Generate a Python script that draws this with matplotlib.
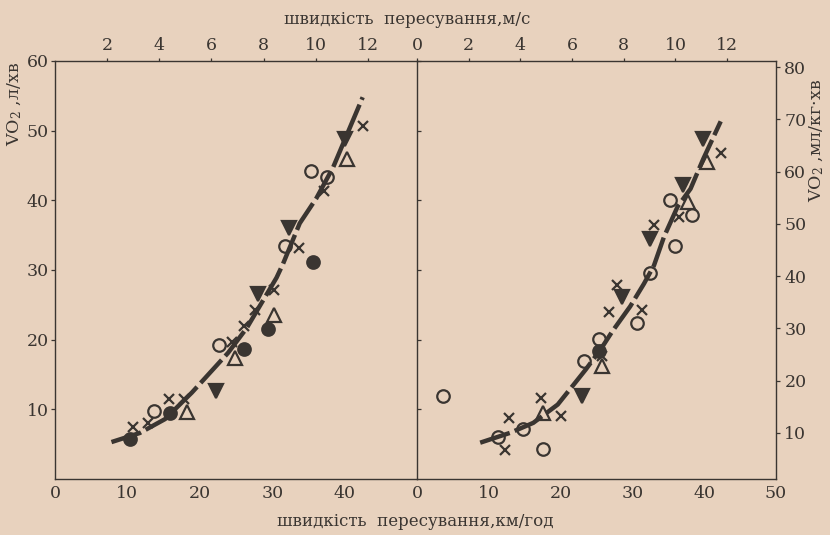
import matplotlib
matplotlib.use("Agg")
import matplotlib.pyplot as plt

# ---------------- data (speed km/h, VO2) ----------------
# Left panel: VO2, l/min
L_open_circle_x = [13.7, 22.6, 31.7, 35.4, 37.5]
L_open_circle_y = [9.8, 19.3, 33.4, 44.2, 43.3]
L_filled_circle_x = [10.3, 15.9, 26.1, 29.4, 35.6]
L_filled_circle_y = [5.8, 9.5, 18.7, 21.6, 31.1]
L_cross_x = [10.8, 12.8, 15.8, 17.8, 24.5, 26.1, 27.6, 30.2, 33.7, 37.2, 42.5]
L_cross_y = [7.4, 8.1, 11.5, 11.5, 19.6, 22.0, 24.3, 27.2, 33.2, 41.3, 50.6]
L_open_tri_x = [18.2, 24.9, 30.3, 40.4]
L_open_tri_y = [9.6, 17.4, 23.6, 45.9]
L_filled_tri_x = [22.2, 28.0, 32.3, 40.0]
L_filled_tri_y = [12.7, 26.5, 36.0, 48.8]
L_curve_x = [7.8, 11.7, 15.2, 18.9, 23.9, 26.5, 30.6, 31.5, 33.8, 36.1, 38.4, 42.5]
L_curve_y = [5.3, 6.6, 8.6, 12.4, 18.1, 21.7, 28.9, 30.9, 36.7, 40.3, 44.7, 54.8]

# Right panel: VO2, ml/kg/min
R_open_circle_x = [3.6, 11.3, 14.8, 17.6, 23.3, 25.3, 30.7, 32.4, 36.0, 35.2, 38.3]
R_open_circle_y = [17.1, 9.2, 10.8, 6.9, 23.7, 27.9, 31.0, 40.6, 45.8, 54.6, 51.6]
R_filled_circle_x = [25.3]
R_filled_circle_y = [25.6]
R_cross_x = [12.3, 12.8, 17.3, 20.0, 25.8, 26.8, 27.9, 31.3, 33.0, 36.5, 42.3]
R_cross_y = [6.7, 12.9, 16.7, 13.3, 24.6, 33.2, 38.3, 33.4, 49.8, 51.3, 63.5]
R_open_tri_x = [17.6, 25.8, 37.7, 40.4]
R_open_tri_y = [13.8, 22.7, 54.2, 61.9]
R_filled_tri_x = [23.0, 28.5, 32.4, 37.0, 39.9]
R_filled_tri_y = [17.1, 35.9, 47.1, 57.5, 66.3]
R_curve_x = [8.8, 13.0, 16.2, 19.6, 23.5, 25.6, 27.2, 29.7, 31.6, 33.0, 34.4, 36.3, 38.1, 39.9, 42.3]
R_curve_y = [8.1, 10.0, 11.9, 15.4, 22.1, 26.0, 29.4, 34.2, 38.5, 42.0, 47.5, 53.3, 56.7, 62.5, 69.6]

L_yticks = [10, 20, 30, 40, 50, 60]
R_yticks = [10, 20, 30, 40, 50, 60, 70, 80]
L_xticks = [0, 10, 20, 30, 40]
R_xticks = [0, 10, 20, 30, 40, 50]
L_top_ticks = [2, 4, 6, 8, 10, 12]
R_top_ticks = [0, 2, 4, 6, 8, 10, 12]

top_label = "швидкість  пересування,м/с"
bottom_label = "швидкість  пересування,км/год"
left_ylabel = r"VO$_2$ ,л/хв"
right_ylabel = r"VO$_2$ ,мл/кг·хв"

# ---------------- style ----------------
BG = "#e8d2be"
INK = "#3a3531"
plt.rcParams['font.family'] = ['DejaVu Serif']
plt.rcParams['mathtext.fontset'] = 'dejavuserif'
plt.rcParams['text.color'] = INK
plt.rcParams['axes.edgecolor'] = INK
plt.rcParams['xtick.color'] = INK
plt.rcParams['ytick.color'] = INK

fig = plt.figure(figsize=(8.3, 5.35), dpi=100, facecolor=BG)
H = 535.0
W = 830.0
TOP, BOT = 61, 479
axL = fig.add_axes([55 / W, 1 - BOT / H, (417 - 55) / W, (BOT - TOP) / H])
axR = fig.add_axes([417 / W, 1 - BOT / H, (776 - 417) / W, (BOT - TOP) / H])

ms = 9
mew = 1.6


def draw(ax, oc, fc, cr, ot, ft, cv):
    ax.plot(cv[0], cv[1], color=INK, lw=3.2, ls=(0, (7, 1.2)),
            solid_capstyle='butt', dash_capstyle='butt', zorder=2)
    ax.plot(oc[0], oc[1], 'o', ms=ms, mfc='none', mec=INK, mew=mew, zorder=3)
    ax.plot(fc[0], fc[1], 'o', ms=ms, mfc=INK, mec=INK, mew=mew, zorder=3)
    ax.plot(cr[0], cr[1], 'x', ms=7.5, mec=INK, mew=mew, zorder=3)
    ax.plot(ot[0], ot[1], '^', ms=ms + 1, mfc='none', mec=INK, mew=mew, zorder=3)
    ax.plot(ft[0], ft[1], 'v', ms=ms + 1, mfc=INK, mec=INK, mew=mew, zorder=3)


draw(axL, (L_open_circle_x, L_open_circle_y), (L_filled_circle_x, L_filled_circle_y),
     (L_cross_x, L_cross_y), (L_open_tri_x, L_open_tri_y),
     (L_filled_tri_x, L_filled_tri_y), (L_curve_x, L_curve_y))
draw(axR, (R_open_circle_x, R_open_circle_y), (R_filled_circle_x, R_filled_circle_y),
     (R_cross_x, R_cross_y), (R_open_tri_x, R_open_tri_y),
     (R_filled_tri_x, R_filled_tri_y), (R_curve_x, R_curve_y))

for ax in (axL, axR):
    ax.set_facecolor('none')
    ax.set_xlim(0, 50)
    for s in ax.spines.values():
        s.set_linewidth(1.0)
    ax.tick_params(labelsize=12.5, length=3, width=0.9, pad=1.5)
    ax.tick_params(axis='x', length=0, pad=4)

axL.set_ylim(0, 60)
axL.set_yticks(L_yticks)
axL.set_xticks(L_xticks)
axL.tick_params(axis='y', right=True, direction='out')

# right scale slightly shifted in the scanned original: 0 sits ~1.2 units below the frame
axR.set_ylim(1.15, 81.15)
axR.set_yticks(R_yticks)
axR.set_xticks(R_xticks)
axR.yaxis.tick_right()
axR.tick_params(axis='y', left=False, pad=3)
axR.spines['left'].set_visible(False)

for ax, tt in ((axL, L_top_ticks), (axR, R_top_ticks)):
    sec = ax.secondary_xaxis('top', functions=(lambda x: x / 3.6, lambda x: x * 3.6))
    sec.set_xticks(tt)
    sec.tick_params(labelsize=12.5, length=2, width=0.9, pad=3, colors=INK)
    sec.spines['top'].set_visible(False)

fig.text(407 / W, 1 - 20 / H, top_label, ha='center', va='center', fontsize=12)
fig.text(415 / W, 1 - 521 / H, bottom_label, ha='center', va='center', fontsize=12)
fig.text(15 / W, 1 - 104 / H, left_ylabel, rotation=90, ha='center', va='center', fontsize=12.5)
fig.text(817 / W, 1 - 140 / H, right_ylabel, rotation=90, ha='center', va='center', fontsize=12.5)

fig.savefig("out.png", dpi=100, facecolor=BG)
